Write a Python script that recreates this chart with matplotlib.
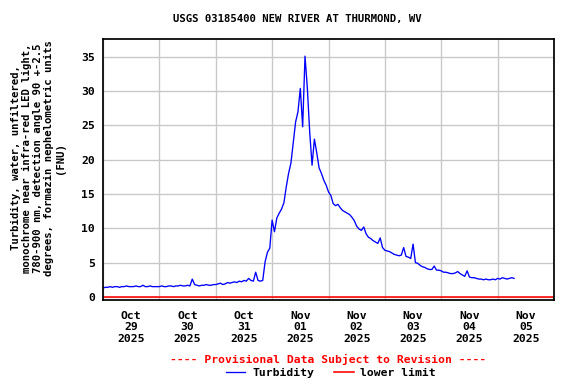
import matplotlib
matplotlib.use("Agg")
import matplotlib.pyplot as plt
import matplotlib.dates as mdates
import numpy as np
import pandas as pd

TITLE = "USGS 03185400 NEW RIVER AT THURMOND, WV"
YLABEL = ("Turbidity, water, unfiltered,\n"
          "monochrome near infra-red LED light,\n"
          "780-900 nm, detection angle 90 +-2.5\n"
          "degrees, formazin nephelometric units\n"
          "(FNU)")
PROVISIONAL = "---- Provisional Data Subject to Revision ----"

# hourly turbidity readings (FNU) starting 2025-10-29 00:00
start = pd.Timestamp("2025-10-29 00:00")
turbidity = [
    1.3, 1.4, 1.4, 1.5, 1.4, 1.5, 1.5, 1.4, 1.5, 1.5, 1.6, 1.5,
    1.5, 1.5, 1.6, 1.5, 1.5, 1.7, 1.5, 1.5, 1.6, 1.5, 1.5, 1.5,
    1.5, 1.6, 1.5, 1.5, 1.6, 1.6, 1.5, 1.6, 1.6, 1.7, 1.6, 1.6,
    1.7, 1.6, 2.6, 1.8, 1.7, 1.6, 1.7, 1.7, 1.8, 1.7, 1.7, 1.8,
    1.8, 1.9, 2.0, 1.8, 1.9, 2.1, 2.0, 2.1, 2.2, 2.1, 2.3, 2.2,
    2.4, 2.3, 2.7, 2.4, 2.3, 3.6, 2.4, 2.3, 2.4,
    5.1, 6.5, 7.1, 11.2, 9.5, 11.5, 12.2, 12.8, 13.7, 16.0, 18.0, 19.5,
    22.5, 25.5, 27.0, 30.4, 24.8, 35.1, 30.4, 24.0, 19.2, 23.0, 21.0, 18.8,
    18.0, 17.0, 16.3, 15.3, 14.8, 13.6, 13.3, 13.5, 13.0, 12.6, 12.4, 12.2,
    12.0, 11.6, 11.1, 10.3, 9.9, 9.7, 10.2, 9.2, 8.7, 8.5, 8.2, 8.0,
    7.8, 8.6, 7.2, 6.8, 6.7, 6.6, 6.4, 6.2, 6.1, 6.0, 6.1, 7.2,
    5.9, 5.8, 5.6, 7.7, 5.0, 4.9, 4.6, 4.4, 4.3, 4.1, 4.0, 4.0,
    4.5, 3.9, 3.9, 3.8, 3.6, 3.6, 3.5, 3.4, 3.4, 3.5, 3.7, 3.4,
    3.2, 3.0, 3.8, 2.9, 2.8, 2.8, 2.7, 2.6, 2.6, 2.5, 2.6, 2.5,
    2.5, 2.6, 2.5, 2.7, 2.6, 2.8, 2.7, 2.6, 2.7, 2.8, 2.7,
]
times = pd.date_range(start, periods=len(turbidity), freq="h")
lower_limit = 0.0

x_start = pd.Timestamp("2025-10-29 00:00")
x_end = pd.Timestamp("2025-11-06 00:00")
y_ticks = [0, 5, 10, 15, 20, 25, 30, 35]

FONT = "DejaVu Sans Mono"
plt.rcParams["font.family"] = FONT
plt.rcParams["font.weight"] = "bold"

fig = plt.figure(figsize=(6, 4), dpi=96)
ax = fig.add_axes([103 / 576, 1 - 300 / 384, 451 / 576, 261 / 384])

ax.plot(times, turbidity, color="#0000ff", lw=1.0, label="Turbidity")
ax.axhline(lower_limit, color="#ff0000", lw=1.2, label="lower limit")

ax.set_xlim(x_start, x_end)
ax.set_ylim(-0.45, 37.6)

# grid at midnight, labels at noon
ax.xaxis.set_minor_locator(mdates.DayLocator())
ax.xaxis.set_major_locator(mdates.HourLocator(byhour=[12]))
ax.xaxis.set_major_formatter(mdates.DateFormatter("%b\n%d\n%Y"))
ax.grid(True, which="minor", axis="x", color="#c8c8c8", lw=1)
ax.grid(False, which="major", axis="x")
ax.set_yticks(y_ticks)
ax.grid(True, which="major", axis="y", color="#c8c8c8", lw=1)
ax.set_axisbelow(True)
ax.tick_params(axis="both", which="both", length=0, labelsize=8.5)
ax.tick_params(axis="x", pad=8)
ax.tick_params(axis="y", pad=6)
for lab in ax.get_xticklabels() + ax.get_yticklabels():
    lab.set_fontweight("bold")
for sp in ax.spines.values():
    sp.set_linewidth(1.3)
    sp.set_color("black")

fig.text(297 / 576, 1 - 19 / 384, TITLE, ha="center", va="center",
         fontsize=8, fontweight="bold")
fig.text(38 / 576, 1 - 158 / 384, YLABEL, ha="center", va="center",
         rotation=90, fontsize=8, fontweight="bold", linespacing=1.1)
fig.text(328 / 576, 1 - 359 / 384, PROVISIONAL, ha="center", va="center",
         color="#ff0000", fontsize=8.5, fontweight="bold")
fig.legend(loc="center", bbox_to_anchor=(331 / 576, 1 - 373 / 384), ncol=2,
           frameon=False, fontsize=8.5, handlelength=1.7, columnspacing=1.8,
           handletextpad=0.6, borderpad=0, borderaxespad=0)

fig.savefig("out.png", dpi=96)
